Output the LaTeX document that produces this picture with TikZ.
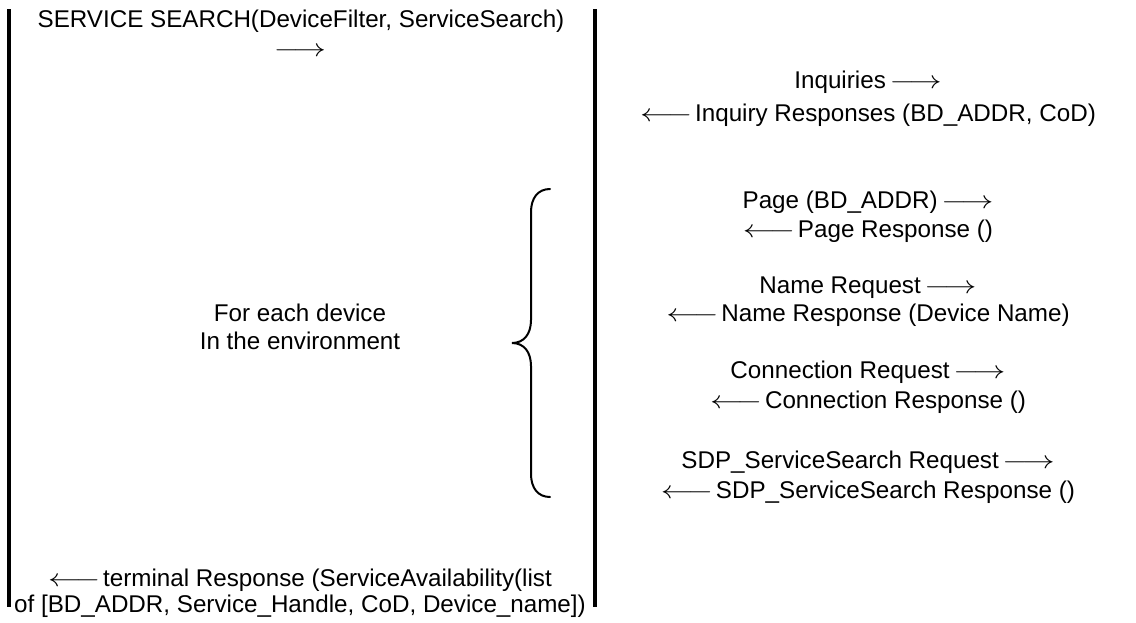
\documentclass[tikz,border=0pt]{standalone}
\usepackage{graphicx}
\usepackage{fontspec}
\setmainfont{Liberation Sans}
\newcommand\myra{\hspace{0.15em}\scalebox{1.3}[1]{$\longrightarrow$}}
\newcommand\myla{\scalebox{1.3}[1]{$\longleftarrow$}\hspace{0.12em}}
\begin{document}
\begin{tikzpicture}[x=1pt,y=-1pt,
  txt/.style={inner sep=0pt, anchor=base, font=\fontsize{24.2}{29}\selectfont},
  bar/.style={line width=4pt},
  brc/.style={line width=2pt, line cap=round}]
\useasboundingbox (0,0) rectangle (1136,622);
% lifelines
\coordinate (l1) at (9,9);   \coordinate (l2) at (9,607);
\coordinate (m1) at (595,9); \coordinate (m2) at (595,607);
\draw[bar] (l1) -- (l2);
\draw[bar] (m1) -- (m2);
% left column
\node[txt] (ss)  at (301,27) {SERVICE SEARCH(DeviceFilter, ServiceSearch)};
\node[txt] (ssa) at (300,56) {\scalebox{1.3}[1]{$\longrightarrow$}};
\node[txt] (fe1) at (300,321) {For each device};
\node[txt] (fe2) at (300,349) {In the environment};
\node[txt] (tr1) at (300,586) {\myla terminal Response (ServiceAvailability(list};
\node[txt] (tr2) at (300,612) {of [BD\_ADDR, Service\_Handle, CoD, Device\_name])};
% brace
\coordinate (bt) at (550,189); \coordinate (bm) at (512,343); \coordinate (bb) at (550,497);
\draw[brc] (bt) .. controls (538,189) and (531,198) .. (531,212) -- (531,320)
  .. controls (531,334) and (524,343) .. (bm)
  .. controls (524,343) and (531,352) .. (531,366) -- (531,474)
  .. controls (531,488) and (538,497) .. (bb);
% right column
\node[txt] (iq)  at (868,88)  {Inquiries\myra};
\node[txt] (iqr) at (868,121) {\myla Inquiry Responses (BD\_ADDR, CoD)};
\node[txt] (pg)  at (868,208) {Page (BD\_ADDR)\myra};
\node[txt] (pgr) at (868,237) {\myla Page Response ()};
\node[txt] (nm)  at (868,293) {Name Request\myra};
\node[txt] (nmr) at (868,321) {\myla Name Response (Device Name)};
\node[txt] (cn)  at (868,378) {Connection Request\myra};
\node[txt] (cnr) at (868,408) {\myla Connection Response ()};
\node[txt] (sd)  at (868,468) {SDP\_ServiceSearch Request\myra};
\node[txt] (sdr) at (868,498) {\myla SDP\_ServiceSearch Response ()};
\end{tikzpicture}
\end{document}
